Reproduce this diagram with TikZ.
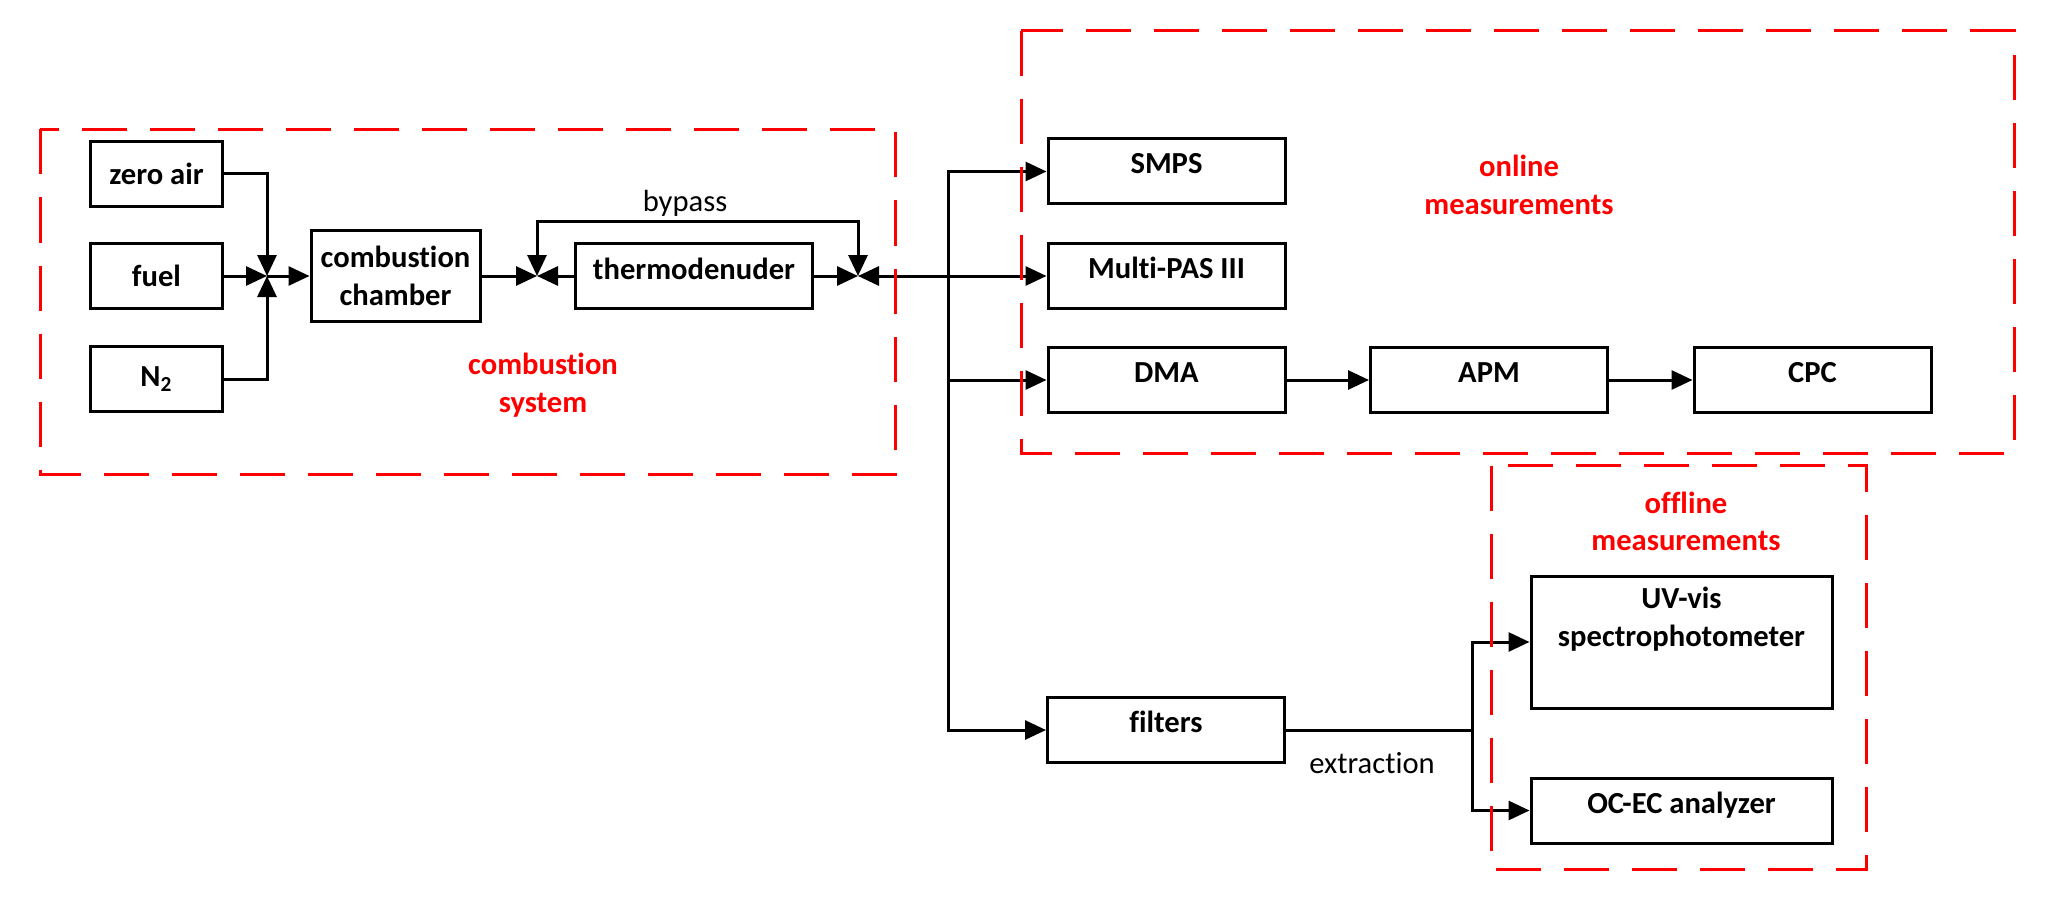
\documentclass[tikz,border=0pt]{standalone}
\usepackage{fontspec}
\setmainfont{Carlito}[Ligatures=NoCommon]
\usetikzlibrary{arrows.meta}
\newcommand\rbx[2]{\raisebox{#1}[\height][\depth]{#2}}
\begin{document}
\begin{tikzpicture}[x=0.5pt,y=-0.5pt,
  every node/.style={font=\fontsize{15.3}{18.7}\selectfont},
  box/.style={draw=black,line width=1.5pt,fill=white,inner sep=0pt,font=\fontsize{15.3}{18.7}\selectfont\bfseries,align=center},
  srcbox/.style={box,minimum width=66pt,minimum height=32.5pt},
  longbox/.style={box,minimum width=118.5pt,minimum height=32.5pt},
  widebox/.style={box,minimum width=150.5pt},
  arr/.style={line width=1.5pt,-{Triangle[length=10.5pt,width=9.5pt]}},
  arrtwo/.style={line width=1.5pt,{Triangle[length=10.5pt,width=9.5pt]}-{Triangle[length=10.5pt,width=9.5pt]}},
  conn/.style={line width=1.5pt},
  grp/.style={draw=red,line width=1.5pt,dash pattern=on 22.5pt off 11.5pt},
  grplabel/.style={text=red,align=center,font=\fontsize{15.3}{18.7}\selectfont\bfseries},
  flowlabel/.style={text=black,font=\fontsize{15.3}{18.7}\selectfont}
]
\useasboundingbox (0,0) rectangle (2047,899);

% source boxes
\node[srcbox] (za) at (156.5,174) {zero air};
\node[srcbox] (fuel) at (156.5,276) {fuel};
\node[srcbox] (ntwo) at (156.5,379) {N\textsubscript{2}};
\node[box,minimum width=84.5pt,minimum height=45.5pt] (cc) at (395.5,276) {combustion\\chamber};
\node[longbox] (td) at (694,276) {\rbx{3.5pt}{thermodenuder}};

% junctions
\coordinate (j1) at (267,276);
\coordinate (j2) at (537,276);
\coordinate (j3) at (858,276);
\coordinate (split) at (948,276);
\coordinate (ext) at (1472,730);

% online instruments
\node[longbox] (smps) at (1166.5,171.5) {\rbx{4pt}{SMPS}};
\node[longbox] (mpas) at (1166.5,276) {\rbx{4pt}{Multi-PAS III}};
\node[longbox] (dma) at (1166.5,380) {\rbx{3.5pt}{DMA}};
\node[longbox] (apm) at (1489,380) {\rbx{3.5pt}{APM}};
\node[longbox] (cpc) at (1812.5,380) {\rbx{3.5pt}{CPC}};

% offline
\node[longbox] (filters) at (1166,730) {\rbx{4pt}{filters}};
\node[widebox,minimum height=66pt] (uv) at (1681.5,642) {\rbx{11pt}{\begin{tabular}{@{}c@{}}UV-vis\\spectrophotometer\end{tabular}}};
\node[widebox,minimum height=32.5pt] (ocec) at (1681.5,810.5) {\rbx{2.7pt}{OC-EC analyzer}};

% connectors
\draw[arr] (za.east) -| (j1);
\draw[arr] (fuel.east) -- (j1);
\draw[arr] (ntwo.east) -| (j1);
\draw[arr] (j1) -- (cc.west);
\draw[arr] (cc.east) -- (j2);
\draw[arr] (td.west) -- (j2);
\draw[arrtwo] (j2) -- ++(0,-55) -| (j3);
\draw[arr] (td.east) -- (j3);
\draw[arr] (split) -- (j3);
\draw[arr] (split) |- (smps.west);
\draw[arr] (split) -- (mpas.west);
\draw[arr] (split) |- (dma.west);
\draw[arr] (split) |- (filters.west);
\draw[arr] (dma) -- (apm);
\draw[arr] (apm) -- (cpc);
\draw[conn] (filters.east) -- (ext);
\draw[arr] (ext) |- (uv.west);
\draw[arr] (ext) |- (ocec.west);

% flow labels
\node[flowlabel] (bypass) at (685,203) {bypass};
\node[flowlabel] (extraction) at (1372,763) {extraction};

% groups
\draw[grp] (40,129.5) rectangle (895,474);
\draw[grp] (1021,31) rectangle (2014,453);
\draw[grp] (1491,465.5) rectangle (1866.5,869);
\node[grplabel] (lblcomb) at (543,385) {combustion\\system};
\node[grplabel] (lblon) at (1519,185) {online\\measurements};
\node[grplabel] (lbloff) at (1686,521.5) {offline\\measurements};
\end{tikzpicture}
\end{document}
